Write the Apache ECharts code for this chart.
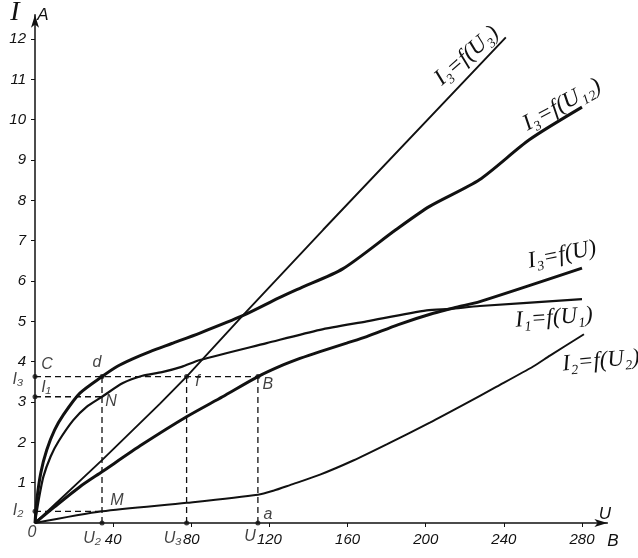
<!DOCTYPE html>
<html><head><meta charset="utf-8">
<script src="https://cdn.jsdelivr.net/npm/echarts@6/dist/echarts.min.js"></script>
<style>html,body{margin:0;padding:0;background:#fff}#c{width:638px;height:558px}</style>
</head><body><div id="c"></div>
<script>
// ---- axis ticks ----
const xTicks = [40, 80, 120, 160, 200, 240, 280];
const yTicks = [1, 2, 3, 4, 5, 6, 7, 8, 9, 10, 11, 12];

// ---- curves (U in volts, I in amperes) ----
// I3 = f(U3)
const curveU3_U = [0, 34.3, 64, 77.6, 106.3, 147.5, 241];
const curveU3_I = [0, 1.56, 2.96, 3.63, 5.14, 7.27, 12.04];
// I3 = f(U12)
const curveU12_U = [0, 1, 3, 6, 10, 14.5, 23, 34.3, 42, 50, 58.9, 70, 84.4, 106.3, 124.8, 135.6, 157.5, 184.7, 202, 227.5, 253, 280];
const curveU12_I = [0, 0.6, 1.25, 1.81, 2.3, 2.68, 3.22, 3.63, 3.88, 4.07, 4.25, 4.45, 4.71, 5.14, 5.58, 5.82, 6.3, 7.27, 7.85, 8.51, 9.5, 10.31];
// I3 = f(U)
const curveU_U = [0, 10, 23, 34.3, 55, 77.8, 96, 114.1, 127, 135.6, 145.9, 159.5, 169.8, 186, 203.9, 215.8, 227.7, 280];
const curveU_I = [0, 0.4, 0.9, 1.27, 1.95, 2.64, 3.13, 3.63, 3.92, 4.08, 4.25, 4.46, 4.62, 4.92, 5.2, 5.35, 5.49, 6.32];
// I1 = f(U1)
const curveU1_U = [0, 2, 4.3, 8, 12, 19.6, 26.4, 34.3, 45, 55, 65, 75, 84.4, 118.6, 145.9, 169.8, 200.5, 212.4, 227.7, 280];
const curveU1_I = [0, 0.6, 1.15, 1.65, 2.02, 2.55, 2.88, 3.13, 3.47, 3.65, 3.74, 3.87, 4.04, 4.46, 4.79, 5.0, 5.27, 5.31, 5.38, 5.55];
// I2 = f(U2)
const curveU2_U = [0, 34.3, 77.6, 114.1, 122, 130.5, 145.9, 162.9, 180, 202.1, 219.2, 236.3, 255, 263.6, 281];
const curveU2_I = [0, 0.29, 0.5, 0.7, 0.8, 0.94, 1.2, 1.55, 1.95, 2.49, 2.93, 3.38, 3.88, 4.15, 4.68];

// ---- characteristic values ----
const U2 = 34.3, U3 = 77.6, Uab = 114.1;
const I3 = 3.63, I1 = 3.13, I2 = 0.29;

// marked points (dots)
const dotU = [U2, U3, Uab, U2, U3, Uab, 0, 0, 0];
const dotI = [I3, I3, I3, 0, 0, 0, I3, I1, I2];

// point labels
const labelText = ['d', 'N', 'f', 'B', 'M', 'a', 'C', 'I₁', 'I₃', 'I₂', 'U₂', 'U₃', 'U', '0'];
const labelU = [U2, U2, U3, Uab, U2, Uab, 0, 0, 0, 0, U2, U3, Uab, 0];
const labelI = [I3, I1, I3, I3, I2, 0, I3, I1, I3, I2, 0, 0, 0, 0];

// curve captions
const captions = ['I₃=f(U₃)', 'I₃=f(U₁₂)', 'I₃=f(U)', 'I₁=f(U₁)', 'I₂=f(U₂)'];

// ---- build ----
const zip = (a, b) => a.map((v, i) => [v, b[i]]);
const INK = '#111';
const labelOffsets = {
  'd': [-5, -14], 'N': [9, 5], 'f': [11, 5], 'B': [10, 8], 'M': [15, -11], 'a': [10, -8],
  'C': [12, -12], 'I₁': [11, -9], 'I₃': [-17, 3], 'I₂': [-17, -1],
  'U₂': [-10, 16], 'U₃': [-14, 16], 'U': [-8, 14], '0': [-3, 10]
};
const captionPlace = [
  [467, 56, 0.72, 23], [562, 105, 0.5, 23], [562, 255, 0.2, 23], [554, 318, 0.07, 23], [601, 361, 0.09, 23]
];

const xMax = 293, yMax = 12.6;
const gridLeft = 35, gridBottom = 35;
const gridW = 547 * xMax / 280, gridH = 484 * yMax / 12;

function curve(name, u, i, width, smooth) {
  return {
    type: 'line', name, data: zip(u, i), showSymbol: false, smooth: smooth,
    lineStyle: { color: INK, width: width }, z: 3, silent: true
  };
}

const dashSegs = [
  [[0, I3], [Uab, I3]], [[0, I1], [U2, I1]], [[0, I2], [U2, I2]],
  [[U2, 0], [U2, I3]], [[U3, 0], [U3, I3]], [[Uab, 0], [Uab, I3]]
];

const series = [
  curve('I3=f(U3)', curveU3_U, curveU3_I, 1.9, false),
  curve('I3=f(U12)', curveU12_U, curveU12_I, 3, 0.25),
  curve('I3=f(U)', curveU_U, curveU_I, 3, 0.25),
  curve('I1=f(U1)', curveU1_U, curveU1_I, 2.2, 0.25),
  curve('I2=f(U2)', curveU2_U, curveU2_I, 2, 0.25)
];
dashSegs.forEach(seg => series.push({
  type: 'line', data: seg, showSymbol: false, silent: true, z: 2,
  lineStyle: { color: INK, width: 1.3, type: [6, 4] }
}));
series.push({
  type: 'scatter', data: zip(dotU, dotI), symbolSize: 5, itemStyle: { color: INK }, z: 5, silent: true
});
series.push({
  type: 'scatter', symbolSize: 0, silent: true, z: 6,
  data: labelText.map((t, k) => ({
    value: [labelU[k], labelI[k]], name: t,
    label: { show: true, position: 'inside', formatter: t, offset: labelOffsets[t],
      color: INK, fontSize: 16, fontStyle: 'italic', fontFamily: '"Liberation Sans", sans-serif' }
  }))
});

const txt = (text, x, y, font, rot) => ({ type: 'text', x, y, rotation: rot || 0,
  style: { text, font, fill: INK, align: 'center', verticalAlign: 'middle', textAlign: 'center', textVerticalAlign: 'middle' } });
const graphic = [
  txt('I', 15, 13, 'italic 28px "Liberation Serif", serif'),
  txt('A', 43, 15, 'italic 17px "Liberation Sans", sans-serif'),
  txt('U', 605, 514, 'italic 17px "Liberation Sans", sans-serif'),
  txt('B', 613, 541, 'italic 17px "Liberation Sans", sans-serif')
];
captions.forEach((t, k) => {
  const p = captionPlace[k];
  graphic.push(txt(t, p[0], p[1], 'italic ' + p[3] + 'px "Liberation Serif", serif', p[2]));
});

const axisFont = { color: INK, fontSize: 15, fontStyle: 'italic', fontFamily: '"Liberation Sans", sans-serif' };
const chart = echarts.init(document.getElementById('c'), null, { renderer: 'canvas' });
chart.setOption({
  animation: false,
  backgroundColor: '#fff',
  grid: { left: gridLeft, bottom: gridBottom, width: gridW, height: gridH, containLabel: false },
  xAxis: {
    type: 'value', min: 0, max: xMax,
    axisLine: { lineStyle: { color: INK, width: 1.5 }, symbol: ['none', 'arrow'], symbolSize: [6, 13] },
    axisTick: { show: true, customValues: xTicks, length: 4, lineStyle: { color: INK } },
    axisLabel: Object.assign({ customValues: xTicks, margin: 9 }, axisFont),
    splitLine: { show: false }
  },
  yAxis: {
    type: 'value', min: 0, max: yMax,
    axisLine: { lineStyle: { color: INK, width: 1.5 }, symbol: ['none', 'arrow'], symbolSize: [6, 13] },
    axisTick: { show: true, customValues: yTicks, length: 4, lineStyle: { color: INK } },
    axisLabel: Object.assign({ customValues: yTicks, margin: 9 }, axisFont),
    splitLine: { show: false }
  },
  series: series,
  graphic: graphic
});
</script></body></html>
